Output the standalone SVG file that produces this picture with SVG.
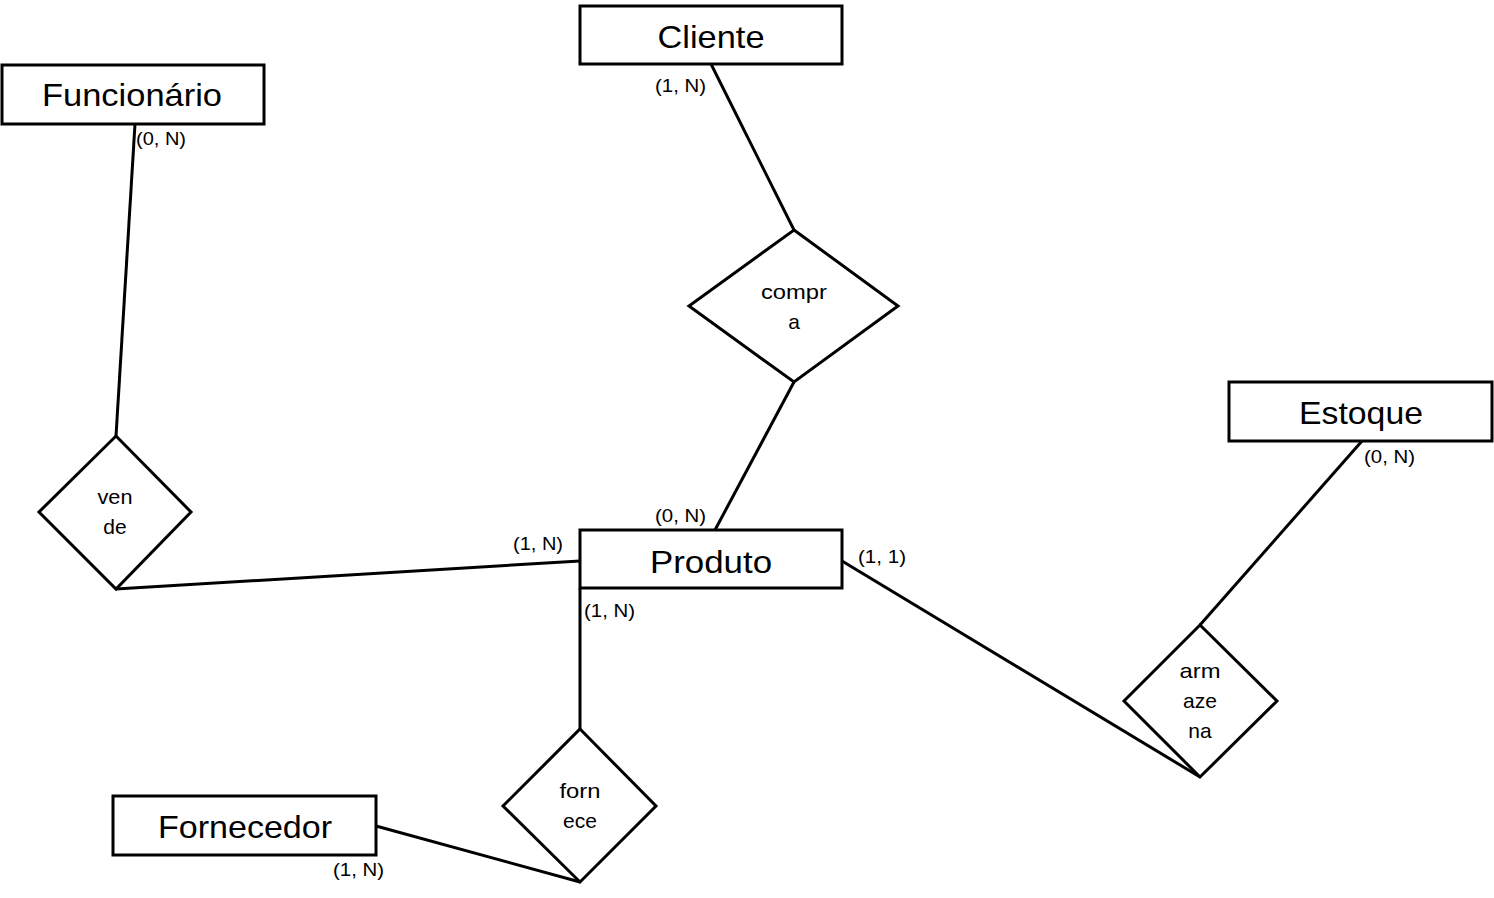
<svg xmlns="http://www.w3.org/2000/svg" width="1494" height="898" viewBox="0 0 1494 898">
<style>
.ent{fill:#fff;stroke:#000;stroke-width:3}
.rel{fill:#fff;stroke:#000;stroke-width:3;stroke-linejoin:miter}
.con line{stroke:#000;stroke-width:3}
.et{font-family:"Liberation Sans",Arial,sans-serif;font-size:32px;fill:#000;text-anchor:middle}
.rt{font-family:"Liberation Sans",Arial,sans-serif;font-size:21px;fill:#000;text-anchor:middle}
.ct{font-family:"Liberation Sans",Arial,sans-serif;font-size:19px;fill:#000}
</style>
<rect width="1494" height="898" fill="#fff"/>
<g id="connectors" class="con">
<line x1="711" y1="64" x2="794" y2="230"/>
<line x1="794" y1="382" x2="715" y2="530"/>
<line x1="135" y1="124" x2="116" y2="436"/>
<line x1="116" y1="589" x2="580" y2="561"/>
<line x1="842" y1="561" x2="1200" y2="777"/>
<line x1="1362" y1="441" x2="1200" y2="625"/>
<line x1="580" y1="588" x2="580" y2="729"/>
<line x1="376" y1="826" x2="580" y2="882"/>
</g>
<g id="cliente">
<rect class="ent" x="580" y="6" width="262" height="58"/>
<text class="et" x="711" y="48" textLength="107" lengthAdjust="spacingAndGlyphs">Cliente</text>
</g>
<g id="funcionario">
<rect class="ent" x="2" y="65" width="262" height="59"/>
<text class="et" x="132" y="106" textLength="180" lengthAdjust="spacingAndGlyphs">Funcionário</text>
</g>
<g id="produto">
<rect class="ent" x="580" y="530" width="262" height="58"/>
<text class="et" x="711" y="573" textLength="122" lengthAdjust="spacingAndGlyphs">Produto</text>
</g>
<g id="estoque">
<rect class="ent" x="1229" y="382" width="263" height="59"/>
<text class="et" x="1361" y="424" textLength="124" lengthAdjust="spacingAndGlyphs">Estoque</text>
</g>
<g id="fornecedor">
<rect class="ent" x="113" y="796" width="263" height="59"/>
<text class="et" x="245" y="838" textLength="174" lengthAdjust="spacingAndGlyphs">Fornecedor</text>
</g>
<g id="compra">
<polygon class="rel" points="794,230 898,306 794,382 689,306"/>
<text class="rt" x="794" y="299" textLength="66" lengthAdjust="spacingAndGlyphs">compr</text>
<text class="rt" x="794" y="329">a</text>
</g>
<g id="vende">
<polygon class="rel" points="116,436 191,512 116,589 39,512"/>
<text class="rt" x="115" y="504" textLength="35" lengthAdjust="spacingAndGlyphs">ven</text>
<text class="rt" x="115" y="534">de</text>
</g>
<g id="armazena">
<polygon class="rel" points="1200,625 1277,701 1200,777 1124,701"/>
<text class="rt" x="1200" y="678" textLength="41" lengthAdjust="spacingAndGlyphs">arm</text>
<text class="rt" x="1200" y="708">aze</text>
<text class="rt" x="1200" y="738">na</text>
</g>
<g id="fornece">
<polygon class="rel" points="580,729 656,806 580,882 503,806"/>
<text class="rt" x="580" y="798" textLength="41" lengthAdjust="spacingAndGlyphs">forn</text>
<text class="rt" x="580" y="828">ece</text>
</g>
<g id="cardinalities">
<text class="ct" x="655" y="92" textLength="51" lengthAdjust="spacingAndGlyphs">(1, N)</text>
<text class="ct" x="136" y="145" textLength="50" lengthAdjust="spacingAndGlyphs">(0, N)</text>
<text class="ct" x="655" y="522" textLength="51" lengthAdjust="spacingAndGlyphs">(0, N)</text>
<text class="ct" x="513" y="550" textLength="50" lengthAdjust="spacingAndGlyphs">(1, N)</text>
<text class="ct" x="858" y="563" textLength="48" lengthAdjust="spacingAndGlyphs">(1, 1)</text>
<text class="ct" x="584" y="617" textLength="51" lengthAdjust="spacingAndGlyphs">(1, N)</text>
<text class="ct" x="1364" y="463" textLength="51" lengthAdjust="spacingAndGlyphs">(0, N)</text>
<text class="ct" x="333" y="876" textLength="51" lengthAdjust="spacingAndGlyphs">(1, N)</text>
</g>
</svg>
